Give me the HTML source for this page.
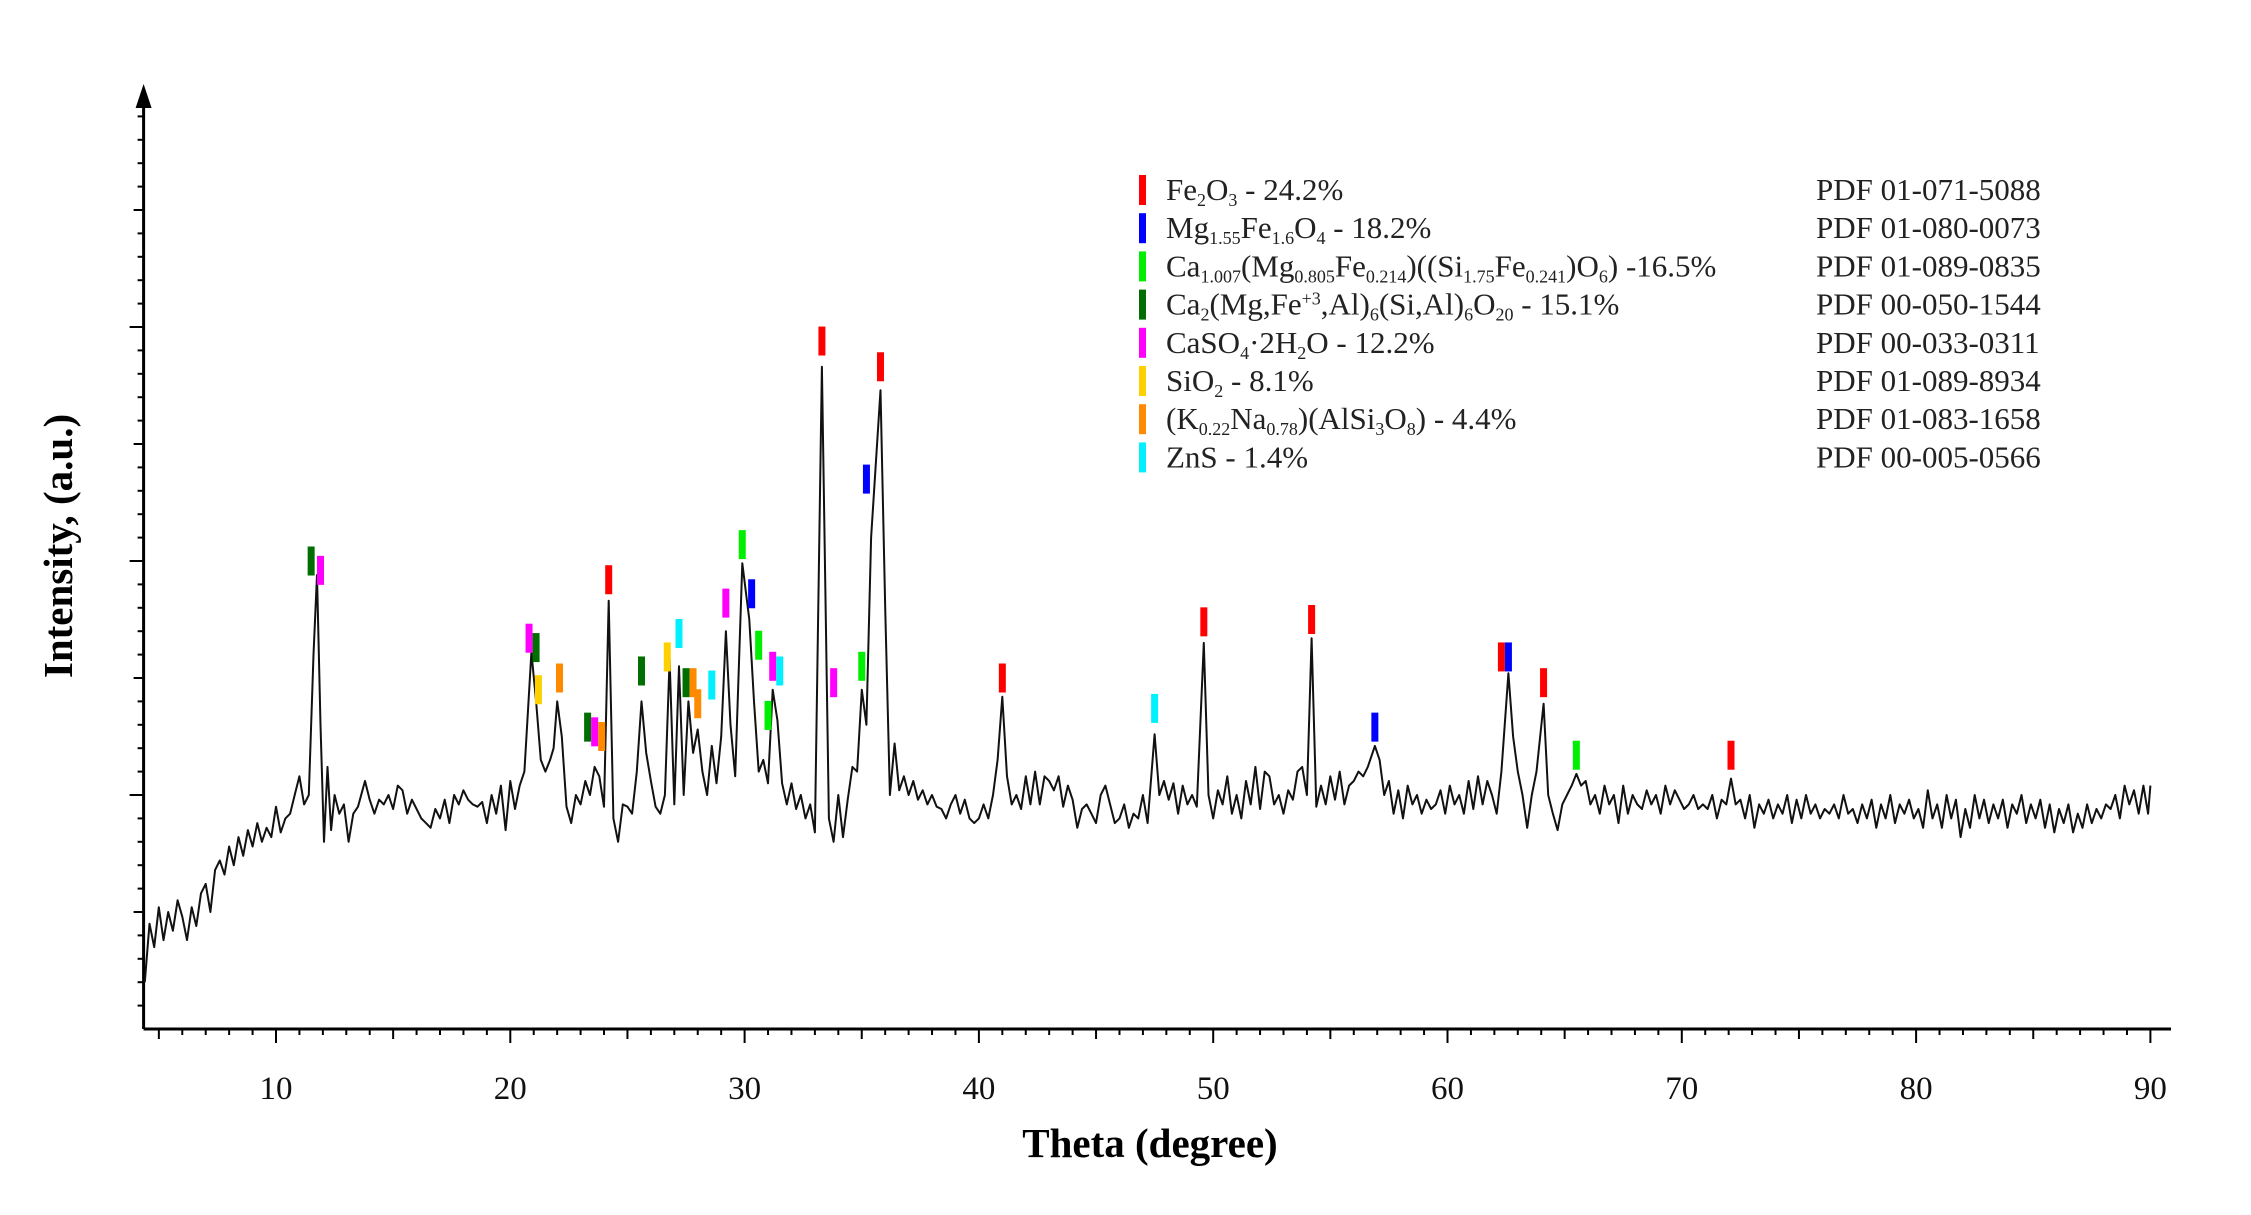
<!DOCTYPE html>
<html><head><meta charset="utf-8"><style>
html,body{margin:0;padding:0;background:#fff;}
svg{display:block;font-family:"Liberation Serif",serif;}
</style></head><body>
<svg id="chart" width="2251" height="1215" viewBox="0 0 2251 1215">
<g id="axes"></g>
<g id="trace"></g>
<g id="marks"></g>
<g id="legend" font-size="31" fill="#222">
</g>
<text x="72" y="546" font-size="41" font-weight="bold" text-anchor="middle" transform="rotate(-90 72 546)">Intensity, (a.u.)</text>
<text x="1150" y="1157" font-size="41" font-weight="bold" text-anchor="middle">Theta (degree)</text>
</svg>
<script>
const xTicks=[10,20,30,40,50,60,70,80,90];
const traceX=[4.4,4.6,4.8,5.0,5.2,5.4,5.6,5.8,6.0,6.2,6.4,6.6,6.8,7.0,7.2,7.4,7.6,7.8,8.0,8.2,8.4,8.6,8.8,9.0,9.2,9.4,9.6,9.8,10.0,10.2,10.4,10.6,10.8,11.0,11.2,11.4,11.6,11.75,11.9,12.05,12.2,12.35,12.5,12.7,12.9,13.1,13.3,13.5,13.8,14.0,14.2,14.4,14.6,14.8,15.0,15.2,15.4,15.6,15.8,16.0,16.2,16.4,16.6,16.8,17.0,17.2,17.4,17.6,17.8,18.0,18.2,18.4,18.6,18.8,19.0,19.2,19.4,19.6,19.8,20.0,20.2,20.4,20.6,20.9,21.1,21.3,21.5,21.7,21.85,22.0,22.2,22.4,22.6,22.8,23.0,23.2,23.4,23.6,23.8,24.0,24.2,24.4,24.6,24.8,25.0,25.2,25.4,25.6,25.8,26.0,26.2,26.4,26.6,26.8,27.0,27.2,27.4,27.6,27.8,28.0,28.2,28.4,28.6,28.8,29.0,29.2,29.4,29.6,29.9,30.2,30.4,30.6,30.8,31.0,31.2,31.4,31.6,31.8,32.0,32.2,32.4,32.6,32.8,33.0,33.3,33.6,33.8,34.0,34.2,34.4,34.6,34.8,35.0,35.2,35.4,35.8,36.0,36.2,36.4,36.6,36.8,37.0,37.2,37.4,37.6,37.8,38.0,38.2,38.4,38.6,38.8,39.0,39.2,39.4,39.6,39.8,40.0,40.2,40.4,40.6,40.8,41.0,41.2,41.4,41.6,41.8,42.0,42.2,42.4,42.6,42.8,43.0,43.2,43.4,43.6,43.8,44.0,44.2,44.4,44.6,44.8,45.0,45.2,45.4,45.6,45.8,46.0,46.2,46.4,46.6,46.8,47.0,47.2,47.5,47.7,47.9,48.1,48.3,48.5,48.7,48.9,49.1,49.3,49.6,49.8,50.0,50.2,50.4,50.6,50.8,51.0,51.2,51.4,51.6,51.8,52.0,52.2,52.4,52.6,52.8,53.0,53.2,53.4,53.6,53.8,54.0,54.2,54.4,54.6,54.8,55.0,55.2,55.4,55.6,55.8,56.0,56.2,56.4,56.6,56.9,57.1,57.3,57.5,57.7,57.9,58.1,58.3,58.5,58.7,58.9,59.1,59.3,59.5,59.7,59.9,60.1,60.3,60.5,60.7,60.9,61.1,61.3,61.5,61.7,61.9,62.1,62.3,62.6,62.8,63.0,63.2,63.4,63.6,63.8,64.1,64.3,64.5,64.7,64.9,65.1,65.3,65.5,65.7,65.9,66.1,66.3,66.5,66.7,66.9,67.1,67.3,67.5,67.7,67.9,68.1,68.3,68.5,68.7,68.9,69.1,69.3,69.5,69.7,69.9,70.1,70.3,70.5,70.7,70.9,71.1,71.3,71.5,71.7,71.9,72.1,72.3,72.5,72.7,72.9,73.1,73.3,73.5,73.7,73.9,74.1,74.3,74.5,74.7,74.9,75.1,75.3,75.5,75.7,75.9,76.1,76.3,76.5,76.7,76.9,77.1,77.3,77.5,77.7,77.9,78.1,78.3,78.5,78.7,78.9,79.1,79.3,79.5,79.7,79.9,80.1,80.3,80.5,80.7,80.9,81.1,81.3,81.5,81.7,81.9,82.1,82.3,82.5,82.7,82.9,83.1,83.3,83.5,83.7,83.9,84.1,84.3,84.5,84.7,84.9,85.1,85.3,85.5,85.7,85.9,86.1,86.3,86.5,86.7,86.9,87.1,87.3,87.5,87.7,87.9,88.1,88.3,88.5,88.7,88.9,89.1,89.3,89.5,89.7,89.9,90.0];
const traceY=[20,45,35,52,38,50,42,55,48,38,52,44,58,62,50,68,72,66,78,70,82,74,85,78,88,80,86,82,95,84,90,92,100,108,96,100,160,194,130,80,112,85,100,92,96,80,92,95,106,98,92,98,96,100,94,104,102,92,98,94,90,88,86,94,90,98,88,100,96,102,98,96,95,97,88,100,92,104,85,106,94,104,110,161,140,115,110,115,120,140,125,95,88,100,96,106,100,112,108,95,183,90,80,96,95,92,110,140,118,106,95,92,100,158,96,155,100,140,118,128,110,100,121,105,125,170,130,108,199,175,140,110,115,105,145,132,105,96,105,94,100,90,96,84,283,90,80,100,82,98,112,110,145,130,210,273,180,100,122,102,108,100,106,98,102,96,100,95,94,90,96,100,92,98,90,88,90,96,90,100,115,142,108,96,100,94,108,96,110,96,108,106,102,108,95,104,98,86,94,96,92,88,100,104,96,88,90,96,86,92,90,100,88,126,100,106,98,105,92,104,96,100,95,165,100,90,102,96,108,92,100,90,106,96,112,94,110,108,96,100,92,102,98,110,112,100,167,95,104,96,108,98,110,96,104,106,110,108,112,121,115,100,106,92,102,90,104,96,100,92,98,94,96,102,92,104,96,100,92,106,94,108,96,106,100,92,110,152,125,110,100,86,100,110,139,100,92,85,96,100,104,109,104,106,96,100,92,104,96,100,88,104,92,100,96,94,102,96,100,92,104,96,102,98,94,96,100,94,96,94,100,90,98,96,107,96,98,90,100,86,96,92,98,90,96,92,100,88,98,90,100,92,96,90,94,92,96,90,100,92,94,88,96,90,98,86,96,90,100,88,96,92,98,90,94,86,102,90,96,86,100,90,98,82,94,86,100,90,98,88,96,90,98,86,96,92,100,88,96,90,98,86,96,84,94,88,96,84,92,86,96,88,94,90,96,94,100,90,104,96,102,92,104,92,104];
const markerPos=[24.2,33.3,35.8,41.0,49.6,54.2,62.3,64.1,72.1, 35.2,30.3,56.9,62.6, 29.9,30.6,35.0,31.0,65.5, 11.5,21.1,23.3,25.6,27.5, 11.9,20.8,23.6,29.2,31.2,33.8, 21.2,26.7, 22.1,23.9,27.8,28.0, 27.2,28.6,31.5,47.5];
const markerLevel=[192,294,283,150,174,175,159,148,117, 235,186,129,159, 207,164,155,134,117, 200,163,129,153,148, 196,167,127,182,155,148, 145,159, 150,125,148,139, 169,147,153,137];
const markerPhase=[0,0,0,0,0,0,0,0,0, 1,1,1,1, 2,2,2,2,2, 3,3,3,3,3, 4,4,4,4,4,4, 5,5, 6,6,6,6, 7,7,7,7];
const phaseColors=["#ff0000","#0000ff","#00ee00","#006e00","#ff00ff","#ffd000","#ff8a00","#00f0ff"];
const phaseLabels=['Fe<tspan font-size="18" dy="6">2</tspan><tspan dy="-6">O</tspan><tspan font-size="18" dy="6">3</tspan><tspan dy="-6"> - 24.2%</tspan>',
'Mg<tspan font-size="18" dy="6">1.55</tspan><tspan dy="-6">Fe</tspan><tspan font-size="18" dy="6">1.6</tspan><tspan dy="-6">O</tspan><tspan font-size="18" dy="6">4</tspan><tspan dy="-6"> - 18.2%</tspan>',
'Ca<tspan font-size="18" dy="6">1.007</tspan><tspan dy="-6">(Mg</tspan><tspan font-size="18" dy="6">0.805</tspan><tspan dy="-6">Fe</tspan><tspan font-size="18" dy="6">0.214</tspan><tspan dy="-6">)((Si</tspan><tspan font-size="18" dy="6">1.75</tspan><tspan dy="-6">Fe</tspan><tspan font-size="18" dy="6">0.241</tspan><tspan dy="-6">)O</tspan><tspan font-size="18" dy="6">6</tspan><tspan dy="-6">) -16.5%</tspan>',
'Ca<tspan font-size="18" dy="6">2</tspan><tspan dy="-6">(Mg,Fe</tspan><tspan font-size="18" dy="-10">+3</tspan><tspan dy="10">,Al)</tspan><tspan font-size="18" dy="6">6</tspan><tspan dy="-6">(Si,Al)</tspan><tspan font-size="18" dy="6">6</tspan><tspan dy="-6">O</tspan><tspan font-size="18" dy="6">20</tspan><tspan dy="-6"> - 15.1%</tspan>',
'CaSO<tspan font-size="18" dy="6">4</tspan><tspan dy="-6">·2H</tspan><tspan font-size="18" dy="6">2</tspan><tspan dy="-6">O - 12.2%</tspan>',
'SiO<tspan font-size="18" dy="6">2</tspan><tspan dy="-6"> - 8.1%</tspan>',
'(K<tspan font-size="18" dy="6">0.22</tspan><tspan dy="-6">Na</tspan><tspan font-size="18" dy="6">0.78</tspan><tspan dy="-6">)(AlSi</tspan><tspan font-size="18" dy="6">3</tspan><tspan dy="-6">O</tspan><tspan font-size="18" dy="6">8</tspan><tspan dy="-6">) - 4.4%</tspan>',
'ZnS - 1.4%'];
const pdfCodes=["PDF 01-071-5088","PDF 01-080-0073","PDF 01-089-0835","PDF 00-050-1544","PDF 00-033-0311","PDF 01-089-8934","PDF 01-083-1658","PDF 00-005-0566"];

const NS="http://www.w3.org/2000/svg";
const X0=143.6,Y0=1029,XEND=2171;
function xs(d){return 276+(d-10)*23.43;}
function ys(v){return Y0-v*2.34;}
function mk(tag,attrs,parent){const e=document.createElementNS(NS,tag);for(const k in attrs)e.setAttribute(k,attrs[k]);parent.appendChild(e);return e;}

const axes=document.getElementById('axes');
let a=mk('line',{x1:X0,y1:Y0,x2:XEND,y2:Y0,stroke:'#000','stroke-width':3},axes);


a=mk('line',{x1:X0,y1:Y0,x2:X0,y2:100,stroke:'#000','stroke-width':3},axes);


a=mk('polygon',{points:`${X0-8},${108} ${X0+8},${108} ${X0},${84}`,fill:'#000'},axes);


for(let d=5;d<=90;d++){
  const len=d%10===0?14:(d%5===0?10:6);
  const t=mk('line',{x1:xs(d),y1:Y0,x2:xs(d),y2:Y0+len,stroke:'#000','stroke-width':2},axes);
  
  
}
xTicks.forEach(d=>{
  const t=mk('text',{x:xs(d),y:1099,'font-size':33,'text-anchor':'middle',fill:'#111'},axes);
  t.textContent=d;
  
  
});
for(let i=1;i<=40;i++){
  const v=i*10;
  const len=v%100===0?14:(v%50===0?10:6);
  const yy=ys(v);if(yy<110)break;
  const t=mk('line',{x1:X0-len,y1:yy,x2:X0,y2:yy,stroke:'#000','stroke-width':2},axes);
  
  
}

const trace=document.getElementById('trace');
let dstr='';
traceX.forEach((d,i)=>{dstr+=(i?'L':'M')+xs(d).toFixed(1)+','+ys(traceY[i]).toFixed(1);});
const p=mk('path',{d:dstr,fill:'none',stroke:'#111','stroke-width':2,'stroke-linejoin':'round'},trace);



const marks=document.getElementById('marks');
markerPos.forEach((d,i)=>{
  const r=mk('rect',{x:xs(d)-3.5,y:ys(markerLevel[i])-14.5,width:7,height:29,fill:phaseColors[markerPhase[i]]},marks);
  
  
});

const legend=document.getElementById('legend');
phaseLabels.forEach((lab,i)=>{
  const cy=190+i*38.2;
  const r=mk('rect',{x:1139,y:cy-15,width:7,height:30,fill:phaseColors[i]},legend);
  
  
  const t=mk('text',{x:1166,y:cy+10},legend);
  t.innerHTML=lab;
  
  
  const c=mk('text',{x:1816,y:cy+10},legend);
  c.textContent=pdfCodes[i];
  
  
});
</script>
</body></html>
